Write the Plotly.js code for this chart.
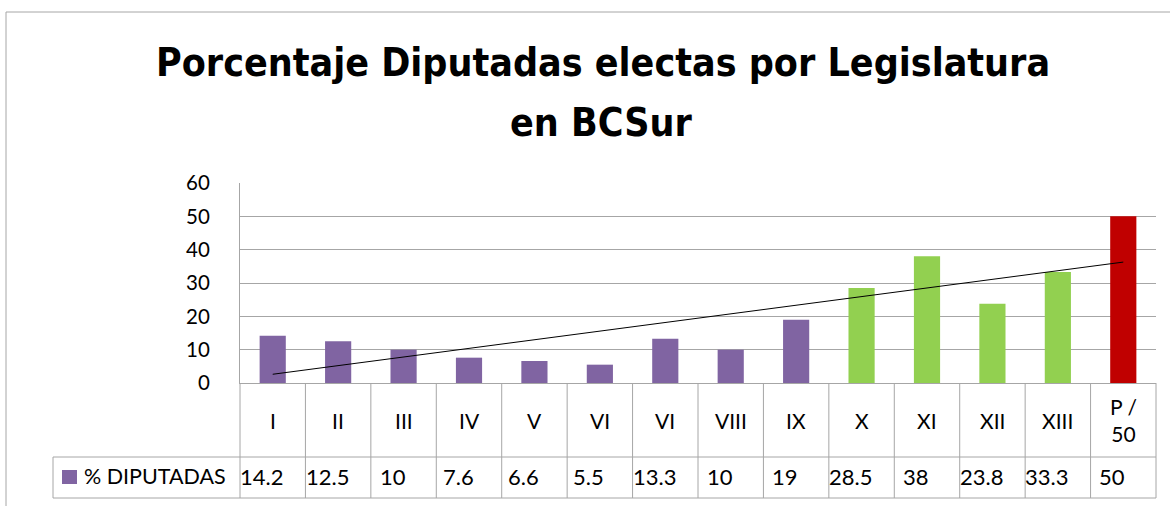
<!DOCTYPE html>
<html>
<head>
<meta charset="utf-8">
<script src="https://cdn.plot.ly/plotly-3.0.1.min.js"></script>
<style>html,body{margin:0;padding:0;background:#fff;}#chart{width:1170px;height:506px;}</style>
</head>
<body>
<div id="chart"></div>
<script>
// ---- data ----
const categories = ["I","II","III","IV","V","VI","VI","VIII","IX","X","XI","XII","XIII","P /<br>50"];
const values = [14.2, 12.5, 10, 7.6, 6.6, 5.5, 13.3, 10, 19, 28.5, 38, 23.8, 33.3, 50];
const valueLabels = ["14.2","12.5","10","7.6","6.6","5.5","13.3","10","19","28.5","38","23.8","33.3","50"];
const seriesName = "% DIPUTADAS";
const yTicks = [0, 10, 20, 30, 40, 50, 60];
const titleLine1 = "Porcentaje Diputadas electas por Legislatura";
const titleLine2 = "en BCSur";

// ---- styles ----
const PURPLE = "#8064A2", GREEN = "#92D050", RED = "#C00000";
const barColors = [PURPLE,PURPLE,PURPLE,PURPLE,PURPLE,PURPLE,PURPLE,PURPLE,PURPLE,GREEN,GREEN,GREEN,GREEN,RED];
const GRID = "#a6a6a6";
const FONT = "Lato, 'Open Sans', sans-serif";
const TITLE_FONT = "'DejaVu Sans Condensed', 'DejaVu Sans', sans-serif";

const W = 1170, H = 506;
const L = 240, R = 1156, T = 183, B = 383;
const X = px => (px - L) / (R - L);
const Y = py => (B - py) / (B - T);

const n = categories.length;
const idx = categories.map((_, i) => i);

// least-squares linear trendline (as computed by the spreadsheet)
const mx = idx.reduce((a, b) => a + b, 0) / n;
const my = values.reduce((a, b) => a + b, 0) / n;
let sxy = 0, sxx = 0;
idx.forEach((x, i) => { sxy += (x - mx) * (values[i] - my); sxx += (x - mx) * (x - mx); });
const slope = sxy / sxx, intercept = my - slope * mx;
const trendX = [0, n - 1];
const trendY = trendX.map(x => intercept + slope * x);

const traces = [
  { type: "bar", x: idx, y: values, width: 0.4, marker: { color: barColors }, hoverinfo: "skip", showlegend: false },
  { type: "scatter", mode: "lines", x: trendX, y: trendY, line: { color: "#000", width: 1 }, hoverinfo: "skip", showlegend: false }
];

const shapes = [];
const line = (x0, y0, x1, y1, color) => shapes.push({ type: "line", xref: "paper", yref: "paper", x0, y0, x1, y1, line: { color: color || GRID, width: 1 } });
// table verticals
for (let i = 0; i <= n; i++) line(i / n, Y(383), i / n, Y(498));
line(X(53), Y(457), 1, Y(457));
line(X(53), Y(498), 1, Y(498));
line(X(53), Y(457), X(53), Y(498));
// outer frame (top and left visible)
line(X(6), Y(12), X(1172), Y(12), "#a6a6a6");
line(X(6), Y(12), X(6), Y(508), "#a6a6a6");
// legend key
shapes.push({ type: "rect", xref: "paper", yref: "paper", x0: X(62), x1: X(77), y0: Y(484), y1: Y(470), fillcolor: PURPLE, line: { width: 0 } });

const annotations = [];
categories.forEach((c, i) => annotations.push({ x: i, y: Y(420), xref: "x", yref: "paper", text: c, showarrow: false, font: { family: FONT, size: 21, color: "#000" }, xanchor: "center", yanchor: "middle" }));
valueLabels.forEach((v, i) => annotations.push({ x: i, y: Y(476), xref: "x", yref: "paper", xshift: -11, text: v, showarrow: false, font: { family: FONT, size: 22, color: "#000" }, xanchor: "center", yanchor: "middle" }));
annotations.push({ x: X(82), y: Y(476), xref: "paper", yref: "paper", text: seriesName, showarrow: false, font: { family: FONT, size: 21.5, color: "#000" }, xanchor: "left", yanchor: "middle" });
annotations.push({ x: X(603), y: Y(63), xref: "paper", yref: "paper", text: "<b>" + titleLine1 + "</b>", showarrow: false, font: { family: TITLE_FONT, size: 39, color: "#000" }, xanchor: "center", yanchor: "middle" });
annotations.push({ x: X(601), y: Y(122), xref: "paper", yref: "paper", text: "<b>" + titleLine2 + "</b>", showarrow: false, font: { family: TITLE_FONT, size: 39, color: "#000" }, xanchor: "center", yanchor: "middle" });

const layout = {
  width: W, height: H,
  margin: { l: L, r: W - R, t: T, b: H - B, pad: 0 },
  paper_bgcolor: "#fff", plot_bgcolor: "#fff",
  showlegend: false,
  xaxis: { range: [-0.5, n - 0.5], showticklabels: false, ticks: "", showgrid: false, zeroline: false, showline: true, linecolor: GRID, linewidth: 1, fixedrange: true },
  yaxis: { range: [0, 60], tickvals: yTicks, ticktext: yTicks.map(String), showgrid: true, gridcolor: GRID, gridwidth: 1, zeroline: false, showline: true, linecolor: GRID, linewidth: 1, ticks: "", ticklabelstandoff: 25, tickfont: { family: FONT, size: 20.5, color: "#000" }, fixedrange: true },
  shapes, annotations
};

Plotly.newPlot("chart", traces, layout, { displayModeBar: false, staticPlot: true });
</script>
</body>
</html>
